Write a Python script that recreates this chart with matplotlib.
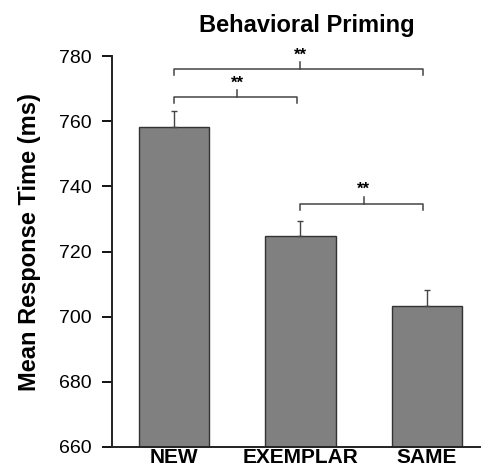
import matplotlib
matplotlib.use("Agg")
import matplotlib.pyplot as plt
import numpy as np

plt.rcParams['font.family'] = ['Liberation Sans', 'DejaVu Sans']

categories = ["NEW", "EXEMPLAR", "SAME"]
means = [758.2, 724.8, 703.2]
errors = [5.0, 4.7, 5.0]
yticks = [660, 680, 700, 720, 740, 760, 780]
# significance brackets: (left index, right index, bracket level, label)
brackets = [(0, 2, 776.0, "**"), (0, 1, 767.4, "**"), (1, 2, 734.7, "**")]

fig = plt.figure(figsize=(4.84, 4.72), dpi=100)
ax = fig.add_axes([0.2314, 0.053, 0.7603, 0.828])

x = np.arange(len(categories))
ax.bar(x, means, width=0.555, color="#808080", edgecolor="#333333", linewidth=1.0, zorder=2)
ax.errorbar(x, means, yerr=[np.zeros(len(errors)), errors], fmt="none",
            ecolor="#444444", elinewidth=1.0, capsize=2.5, capthick=1.0, zorder=3)

ax.set_ylim(660, 780)
ax.set_xlim(-0.49, 2.42)
ax.set_yticks(yticks)
ax.set_yticklabels([str(t) for t in yticks], fontsize=14)
ax.set_xticks(x)
ax.set_xticklabels(categories, fontsize=15, fontweight="bold")
ax.tick_params(axis="x", length=0, pad=1)
ax.tick_params(axis="y", length=7, width=1.3, direction="out", pad=7.5)
for s in ["top", "right"]:
    ax.spines[s].set_visible(False)
for s in ["left", "bottom"]:
    ax.spines[s].set_linewidth(1.4)
    ax.spines[s].set_color("#222222")

ax.set_ylabel("Mean Response Time (ms)", fontsize=17, fontweight="bold")
ax.yaxis.set_label_coords(-0.193, 0.525)

for i, j, lvl, lab in brackets:
    xl, xr = x[i], x[j] - 0.03
    xm = (x[i] + x[j]) / 2
    ax.plot([xl, xl, xr, xr], [lvl - 1.9, lvl, lvl, lvl - 1.9], color="#444444",
            lw=1.1, clip_on=False, zorder=4)
    ax.plot([xm, xm], [lvl, lvl + 2.2], color="#444444", lw=1.1, clip_on=False, zorder=4)
    ax.text(xm, lvl + 2.0, lab, ha="center", va="bottom", fontsize=12,
            fontweight="bold", clip_on=False)

fig.text(0.634, 0.947, "Behavioral Priming", ha="center", va="center",
         fontsize=17, fontweight="bold")

fig.savefig("out.png", dpi=100)
